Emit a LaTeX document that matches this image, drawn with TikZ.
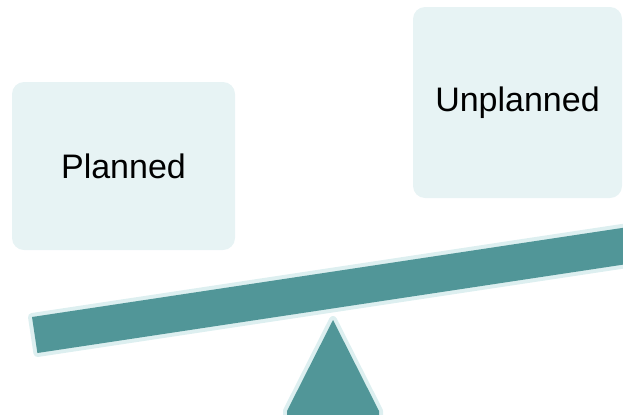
\documentclass[tikz,border=0pt]{standalone}
\usepackage{fontspec}
\setmainfont{Liberation Sans}
\definecolor{cardfill}{HTML}{E7F3F4}
\definecolor{beamteal}{HTML}{519698}
\definecolor{rim}{HTML}{DDEFF0}
\begin{document}
\begin{tikzpicture}
        [x=0.75pt,y=-0.75pt,
         card/.style={fill=cardfill, rounded corners=9pt, inner sep=0pt, font=\fontsize{25.5}{30}\selectfont},
         solid part/.style={fill=beamteal, preaction={draw=rim, line width=6pt, line join=round}}]
      \useasboundingbox (0,0) rectangle (623,414);
      \clip (0,0) rectangle (623,414);
      \node[card, minimum width=167.25pt, minimum height=126pt] (planned) at (123.5,166) {Planned};
      \node[card, minimum width=156.75pt, minimum height=143.25pt] (unplanned) at (517.5,102.5) {Unplanned};

      % lever and pivot
      \path[solid part] (32,317) -- (655,223) -- (660.4,259) -- (37.4,353) -- cycle;
      \path[solid part] (333,320) -- (379,411) -- (379,430) -- (287,430) -- (287,411) -- cycle;
    \end{tikzpicture}
\end{document}
